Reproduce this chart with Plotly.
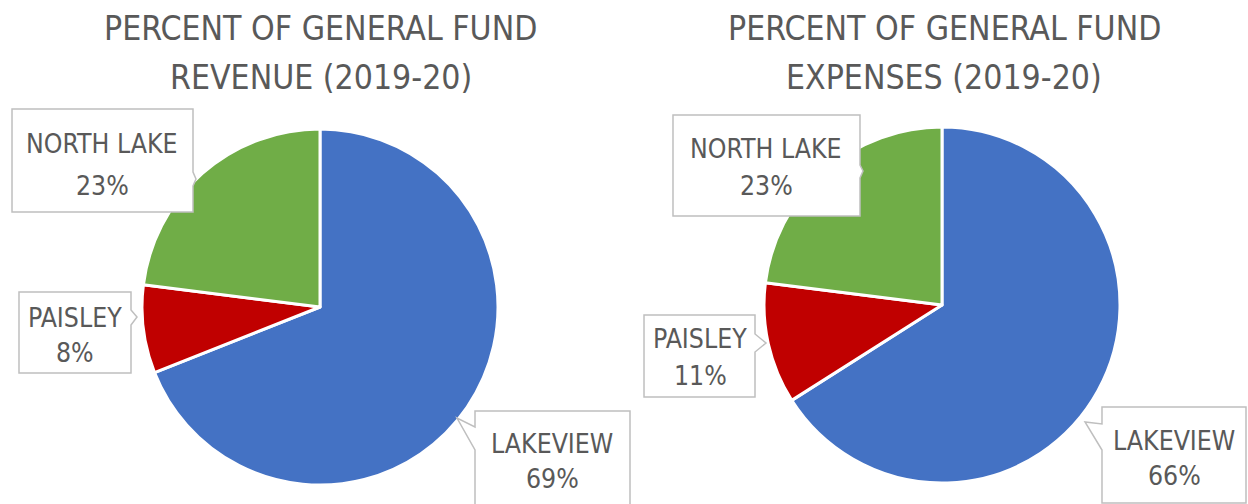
import plotly.graph_objects as go

W, H = 1248, 504

# Data
labels = ["LAKEVIEW", "PAISLEY", "NORTH LAKE"]
revenue = [69, 8, 23]
expenses = [66, 11, 23]
titles = [["PERCENT OF GENERAL FUND", "REVENUE (2019-20)"],
          ["PERCENT OF GENERAL FUND", "EXPENSES (2019-20)"]]
colors = ["#4472C4", "#C00000", "#70AD47"]

FONT = "DejaVu Sans Condensed, Liberation Sans Narrow, sans-serif"
GREY = "#595959"


def px(x):
    return x / W


def py(y):
    return 1 - y / H


fig = go.Figure()

# pie placement in pixels: (center x, center y, radius)
pies = [(320, 307, 178), (942, 305, 178)]

for vals, (cx, cy, r) in zip([revenue, expenses], pies):
    fig.add_trace(go.Pie(
        labels=labels, values=vals, sort=False, direction="clockwise",
        rotation=0, textinfo="none", hoverinfo="label+percent",
        marker=dict(colors=colors, line=dict(color="white", width=3)),
        domain=dict(x=[px(cx - r), px(cx + r)], y=[py(cy + r), py(cy - r)]),
        showlegend=False,
    ))

# titles
for t, cx in zip(titles, [321, 944]):
    for line, yc in zip(t, [28, 77]):
        fig.add_annotation(x=px(cx), y=py(yc), xref="paper", yref="paper",
                           text=line, showarrow=False,
                           font=dict(family=FONT, size=33.5, color=GREY),
                           xanchor="center", yanchor="middle")

# callout boxes: (left, top, right, bottom) and pointer points
callouts = [
    # left chart
    dict(box=(12, 109, 193, 212), ptr=[(193, 172), (196, 179), (193, 186)]),
    dict(box=(19, 292, 131, 373), ptr=[(131, 310), (137, 317), (131, 325)]),
    dict(box=(475, 411, 630, 510), ptr=[(475, 427), (457, 418), (475, 450)]),
    # right chart
    dict(box=(673, 115, 860, 216), ptr=[(860, 165), (863, 171), (860, 178)]),
    dict(box=(644, 315, 755, 397), ptr=[(755, 334), (766, 343), (755, 352)]),
    dict(box=(1102, 407, 1246, 503), ptr=[(1102, 424), (1085, 422), (1102, 450)]),
]

for c in callouts:
    l, t, r, b = c["box"]
    p = c["ptr"]
    if p[0][0] == l:
        pts = [(l, t), (r, t), (r, b), (l, b), p[2], p[1], p[0]]
    else:
        pts = [(l, t), (r, t), p[0], p[1], p[2], (r, b), (l, b)]
    path = "M " + " L ".join(f"{px(x):.5f},{py(y):.5f}" for x, y in pts) + " Z"
    fig.add_shape(type="path", path=path, xref="paper", yref="paper",
                  fillcolor="white", line=dict(color="#BFBFBF", width=1.5))

# label text positions: (center x, name y, pct y) ordered like labels
label_pos = [
    [(552, 443, 478), (75, 317, 352), (102, 143, 185)],
    [(1174, 440, 475), (700, 338, 375), (766, 148, 185)],
]

for vals, poss in zip([revenue, expenses], label_pos):
    for name, v, (cx, y1, y2) in zip(labels, vals, poss):
        for txt, yc in [(name, y1), (f"{v}%", y2)]:
            fig.add_annotation(x=px(cx), y=py(yc), xref="paper", yref="paper",
                               text=txt, showarrow=False,
                               font=dict(family=FONT, size=26.4, color=GREY),
                               xanchor="center", yanchor="middle")

fig.update_layout(
    width=W, height=H,
    margin=dict(l=0, r=0, t=0, b=0),
    paper_bgcolor="white", plot_bgcolor="white",
)

fig.write_html("out.html", config={"displayModeBar": False},
               post_script="document.body.style.margin='0';")
